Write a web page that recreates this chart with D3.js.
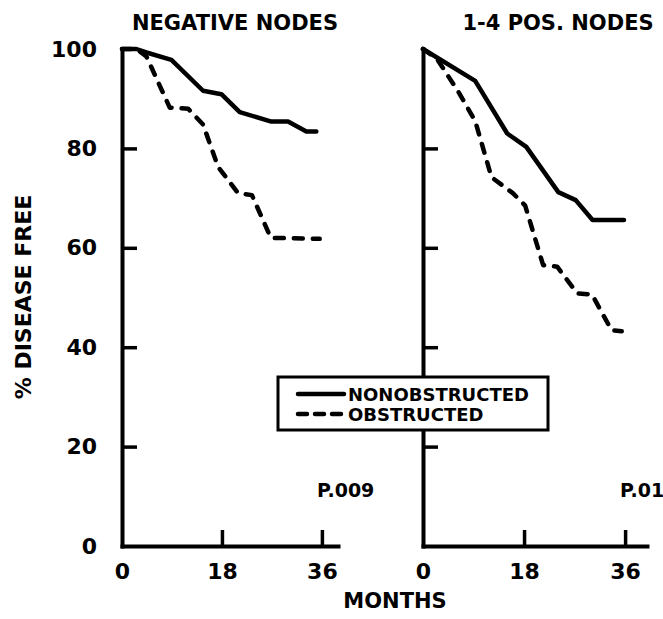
<!DOCTYPE html>
<html>
<head>
<meta charset="utf-8">
<script src="https://cdn.jsdelivr.net/npm/d3@7"></script>
<style>
  body { margin: 0; background: #fff; }
  text { font-family: "DejaVu Sans", sans-serif; font-weight: bold; fill: #000; }
</style>
</head>
<body>
<svg id="chart" width="663" height="619"></svg>
<script>
// months / % disease free
var leftNonMonths = [0, 2.6, 4.4, 8.9, 14.6, 17.9, 21.2, 26.9, 29.9, 33.2, 35];
var leftNonValues = [100, 100, 99.3, 97.8, 91.6, 90.9, 87.3, 85.4, 85.4, 83.4, 83.4];
var leftObsMonths = [0, 2.6, 4.4, 8.6, 11.9, 14.6, 17.3, 20.9, 23.4, 26.8, 35.6];
var leftObsValues = [100, 100, 98.5, 88.2, 88, 84.8, 76.3, 71, 70.6, 62, 61.8];

var rightNonMonths = [0, 9.3, 15, 18.4, 24.1, 27.2, 30.2, 35.8];
var rightNonValues = [100, 93.6, 83, 80.3, 71.2, 69.6, 65.6, 65.6];
var rightObsMonths = [0, 2.5, 6.3, 9.3, 12.2, 16, 18.2, 21.4, 23.9, 27.5, 30.1, 33.6, 35.4];
var rightObsValues = [100, 98, 91.4, 85.5, 74.2, 71, 68.5, 56.5, 56.2, 50.8, 50.6, 43.4, 43.2];

var panelTitles = ['NEGATIVE NODES', '1-4 POS. NODES'];
var pValues = ['P.009', 'P.01'];
var yTicks = [0, 20, 40, 60, 80, 100];
var xTicks = [0, 18, 36];
var seriesNames = ['NONOBSTRUCTED', 'OBSTRUCTED'];

var svg = d3.select('#chart');

var y = d3.scaleLinear().domain([0, 100]).range([546, 49]);

var panels = [
    {x: d3.scaleLinear().domain([0, 38.9]).range([122, 338]), labels: true,
     series: [[leftNonMonths, leftNonValues], [leftObsMonths, leftObsValues]]},
    {x: d3.scaleLinear().domain([0, 39.9]).range([423, 647]), labels: false,
     series: [[rightNonMonths, rightNonValues], [rightObsMonths, rightObsValues]]}
];

var line = d3.line()
    .x(function(d) { return d.px; })
    .y(function(d) { return y(d.v); });

panels.forEach(function(p, i) {
    var x = p.x;
    var x0 = x(0);

    // y axis, ticks pointing inward
    var yAxis = d3.axisLeft(y).tickValues(yTicks)
        .tickSizeInner(-15).tickSizeOuter(0).tickPadding(25)
        .tickFormat(p.labels ? d3.format('d') : '');
    var yg = svg.append('g')
        .attr('transform', 'translate(' + x0 + ',0)')
        .call(yAxis);
    yg.selectAll('.tick line')
        .attr('stroke-width', 3.5)
        .attr('display', function(d) { return (d == 0 || d == 100) ? 'none' : null; });
    yg.select('.domain').attr('stroke-width', 4).attr('stroke-linecap', 'square');
    yg.selectAll('text').attr('font-size', 22).attr('font-family', 'DejaVu Sans').attr('font-weight', 'bold');

    // x axis, ticks pointing up
    var xAxis = d3.axisBottom(x).tickValues(xTicks)
        .tickSizeInner(-16).tickSizeOuter(0).tickPadding(17)
        .tickFormat(d3.format('d'));
    var xg = svg.append('g')
        .attr('transform', 'translate(0,' + y(0) + ')')
        .call(xAxis);
    xg.selectAll('.tick line')
        .attr('stroke-width', 3.5)
        .attr('display', function(d) { return d == 0 ? 'none' : null; });
    xg.select('.domain').attr('stroke-width', 4).attr('stroke-linecap', 'square');
    xg.selectAll('text').attr('font-size', 22).attr('font-family', 'DejaVu Sans').attr('font-weight', 'bold');

    // curves
    p.series.forEach(function(s, k) {
        var pts = s[0].map(function(m, j) { return {px: x(m), v: s[1][j]}; });
        svg.append('path')
            .attr('d', line(pts))
            .attr('fill', 'none')
            .attr('stroke', '#000')
            .attr('stroke-width', 4.5)
            .attr('stroke-linejoin', 'round')
            .attr('stroke-linecap', 'round')
            .attr('stroke-dasharray', k == 1 ? '9,10' : null);
    });

    svg.append('text')
        .attr('x', i == 0 ? 235 : 558).attr('y', 30)
        .attr('text-anchor', 'middle').attr('font-size', 21)
        .text(panelTitles[i]);

    svg.append('text')
        .attr('x', i == 0 ? 317 : 620).attr('y', 497)
        .attr('font-size', 19)
        .text(pValues[i]);
});

// axis titles
svg.append('text')
    .attr('transform', 'translate(31,297) rotate(-90)')
    .attr('text-anchor', 'middle').attr('font-size', 22)
    .text('% DISEASE FREE');

svg.append('text')
    .attr('x', 395).attr('y', 608)
    .attr('text-anchor', 'middle').attr('font-size', 21)
    .text('MONTHS');

// legend
var legend = svg.append('g');
legend.append('rect')
    .attr('x', 278).attr('y', 377).attr('width', 270).attr('height', 53)
    .attr('fill', '#fff').attr('stroke', '#000').attr('stroke-width', 3);
seriesNames.forEach(function(name, k) {
    var ly = 394 + k * 20;
    legend.append('line')
        .attr('x1', 298).attr('x2', 344).attr('y1', ly).attr('y2', ly)
        .attr('stroke', '#000').attr('stroke-width', 4.5)
        .attr('stroke-linecap', 'round')
        .attr('stroke-dasharray', k == 1 ? '9,8' : null);
    legend.append('text')
        .attr('x', 348).attr('y', ly + 7)
        .attr('font-size', 18)
        .text(name);
});
</script>
</body>
</html>
